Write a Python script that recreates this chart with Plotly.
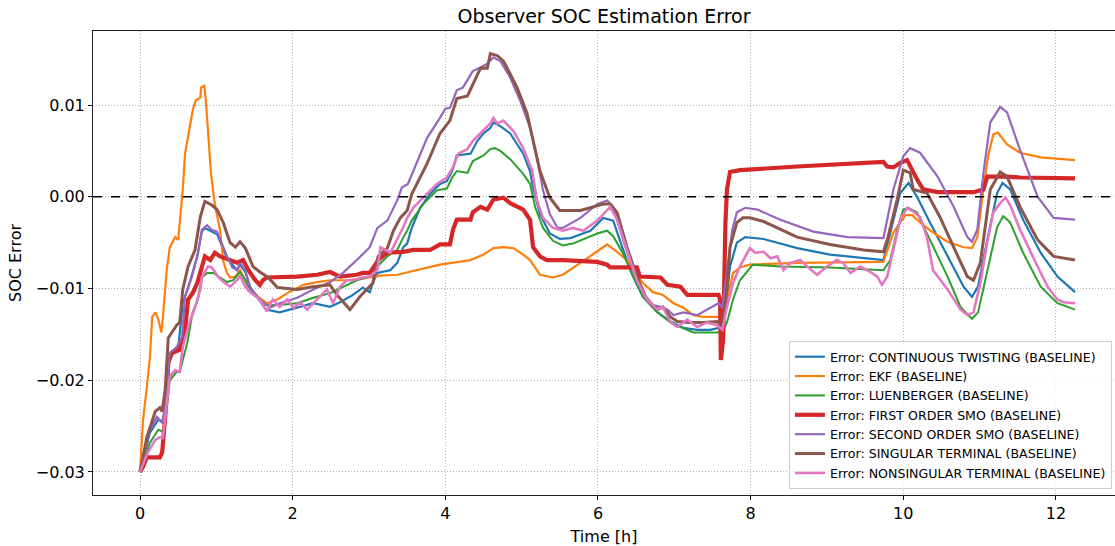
import plotly.graph_objects as go

# ---- data (time in hours, SOC error) ----
t_ct = [0, 0.13, 0.24, 0.29, 0.33, 0.39, 0.50, 0.56, 0.66, 0.75, 0.81, 0.85, 0.94, 1.01, 1.14, 1.27, 1.31, 1.38, 1.44, 1.65, 1.83, 2.06, 2.27, 2.49, 2.62, 2.79, 2.92, 3.01, 3.05, 3.11, 3.28, 3.37, 3.45, 3.50, 3.56, 3.67, 3.80, 3.93, 4.02, 4.09, 4.15, 4.33, 4.42, 4.50, 4.59, 4.63, 4.72, 4.85, 5.02, 5.11, 5.15, 5.24, 5.37, 5.50, 5.64, 5.90, 6.07, 6.20, 6.33, 6.46, 6.59, 6.78, 6.95, 7.12, 7.30, 7.47, 7.58, 7.63, 7.67, 7.73, 7.82, 7.93, 8.17, 8.61, 9.04, 9.48, 9.74, 9.83, 9.96, 10.07, 10.18, 10.35, 10.58, 10.79, 10.90, 10.98, 11.10, 11.23, 11.30, 11.40, 11.57, 11.80, 12.02, 12.25]
v_ct = [-0.0300, -0.0257, -0.0243, -0.0246, -0.0232, -0.0174, -0.0165, -0.0116, -0.0091, -0.0065, -0.0038, -0.0034, -0.0038, -0.0041, -0.0067, -0.0080, -0.0074, -0.0082, -0.0098, -0.0123, -0.0126, -0.0121, -0.0116, -0.0120, -0.0115, -0.0107, -0.0099, -0.0104, -0.0094, -0.0083, -0.0080, -0.0072, -0.0055, -0.0051, -0.0034, -0.0012, 0.0003, 0.0014, 0.0017, 0.0028, 0.0045, 0.0047, 0.0061, 0.0069, 0.0075, 0.0081, 0.0077, 0.0069, 0.0047, 0.0028, 0.0010, -0.0019, -0.0040, -0.0046, -0.0045, -0.0037, -0.0023, -0.0026, -0.0058, -0.0087, -0.0109, -0.0126, -0.0136, -0.0143, -0.0145, -0.0145, -0.0143, -0.0142, -0.0123, -0.0076, -0.0050, -0.0044, -0.0046, -0.0056, -0.0063, -0.0067, -0.0069, -0.0039, 0.0004, 0.0015, 0.0000, -0.0028, -0.0065, -0.0098, -0.0109, -0.0098, -0.0047, 0.0004, 0.0015, 0.0008, -0.0025, -0.0061, -0.0087, -0.0104]

t_ekf = [0, 0.04, 0.09, 0.13, 0.16, 0.20, 0.24, 0.28, 0.30, 0.35, 0.39, 0.46, 0.50, 0.52, 0.56, 0.59, 0.66, 0.69, 0.73, 0.79, 0.80, 0.84, 0.86, 0.89, 0.93, 0.98, 1.05, 1.09, 1.14, 1.18, 1.25, 1.31, 1.38, 1.44, 1.55, 1.66, 1.80, 1.93, 2.14, 2.32, 2.49, 2.71, 2.92, 3.15, 3.37, 3.58, 3.80, 3.93, 4.33, 4.50, 4.63, 4.76, 4.89, 5.02, 5.11, 5.18, 5.24, 5.41, 5.54, 5.77, 5.99, 6.12, 6.25, 6.38, 6.46, 6.59, 6.72, 6.85, 6.99, 7.12, 7.25, 7.38, 7.63, 7.69, 7.77, 7.86, 7.99, 8.61, 9.74, 9.87, 10.03, 10.12, 10.22, 10.39, 10.58, 10.79, 10.90, 10.97, 11.05, 11.11, 11.18, 11.24, 11.36, 11.53, 11.80, 12.25]
v_ekf = [-0.0300, -0.0243, -0.0207, -0.0174, -0.0131, -0.0126, -0.0134, -0.0148, -0.0131, -0.0080, -0.0055, -0.0044, -0.0047, -0.0028, 0.0008, 0.0047, 0.0080, 0.0094, 0.0105, 0.0108, 0.0119, 0.0121, 0.0108, 0.0072, 0.0025, -0.0008, -0.0037, -0.0070, -0.0083, -0.0088, -0.0087, -0.0080, -0.0091, -0.0101, -0.0109, -0.0116, -0.0112, -0.0105, -0.0096, -0.0093, -0.0091, -0.0091, -0.0089, -0.0086, -0.0085, -0.0081, -0.0077, -0.0074, -0.0069, -0.0063, -0.0056, -0.0055, -0.0056, -0.0063, -0.0069, -0.0077, -0.0085, -0.0088, -0.0085, -0.0072, -0.0060, -0.0052, -0.0060, -0.0069, -0.0080, -0.0094, -0.0104, -0.0107, -0.0116, -0.0121, -0.0129, -0.0131, -0.0131, -0.0112, -0.0083, -0.0077, -0.0074, -0.0072, -0.0071, -0.0039, -0.0020, -0.0020, -0.0028, -0.0039, -0.0049, -0.0055, -0.0056, -0.0044, 0.0008, 0.0044, 0.0068, 0.0070, 0.0057, 0.0048, 0.0043, 0.0040]

t_lu = [0, 0.13, 0.24, 0.30, 0.35, 0.39, 0.48, 0.52, 0.62, 0.69, 0.76, 0.81, 0.88, 0.96, 1.05, 1.14, 1.22, 1.31, 1.38, 1.44, 1.65, 1.83, 2.06, 2.27, 2.49, 2.66, 2.84, 3.01, 3.11, 3.24, 3.37, 3.45, 3.50, 3.56, 3.71, 3.89, 4.02, 4.09, 4.15, 4.29, 4.36, 4.50, 4.59, 4.65, 4.72, 4.85, 5.02, 5.11, 5.18, 5.28, 5.41, 5.54, 5.67, 5.99, 6.12, 6.20, 6.33, 6.46, 6.59, 6.78, 6.95, 7.08, 7.25, 7.56, 7.63, 7.69, 7.77, 7.86, 7.97, 8.03, 8.39, 9.04, 9.74, 9.83, 9.92, 10.00, 10.07, 10.18, 10.35, 10.58, 10.75, 10.90, 10.98, 11.10, 11.23, 11.31, 11.40, 11.57, 11.80, 12.02, 12.25]
v_lu = [-0.0300, -0.0268, -0.0254, -0.0256, -0.0232, -0.0200, -0.0191, -0.0191, -0.0159, -0.0126, -0.0112, -0.0088, -0.0083, -0.0083, -0.0088, -0.0093, -0.0091, -0.0082, -0.0091, -0.0101, -0.0118, -0.0118, -0.0116, -0.0110, -0.0105, -0.0098, -0.0091, -0.0087, -0.0076, -0.0065, -0.0058, -0.0044, -0.0037, -0.0026, -0.0008, 0.0007, 0.0009, 0.0021, 0.0028, 0.0026, 0.0039, 0.0045, 0.0052, 0.0053, 0.0050, 0.0041, 0.0025, 0.0014, -0.0012, -0.0034, -0.0048, -0.0053, -0.0051, -0.0040, -0.0037, -0.0043, -0.0062, -0.0087, -0.0109, -0.0126, -0.0137, -0.0142, -0.0148, -0.0148, -0.0147, -0.0137, -0.0112, -0.0091, -0.0080, -0.0074, -0.0076, -0.0077, -0.0080, -0.0069, -0.0036, -0.0014, -0.0012, -0.0017, -0.0047, -0.0087, -0.0120, -0.0133, -0.0126, -0.0083, -0.0033, -0.0021, -0.0028, -0.0061, -0.0098, -0.0116, -0.0123]

t_fo = [0, 0.04, 0.09, 0.26, 0.29, 0.33, 0.37, 0.42, 0.52, 0.59, 0.63, 0.69, 0.75, 0.81, 0.85, 0.92, 0.98, 1.05, 1.18, 1.27, 1.35, 1.42, 1.51, 1.57, 1.61, 1.66, 2.06, 2.32, 2.49, 2.62, 2.84, 2.92, 3.01, 3.12, 3.24, 3.45, 3.58, 3.80, 3.93, 4.06, 4.10, 4.15, 4.33, 4.36, 4.46, 4.55, 4.63, 4.76, 4.85, 4.94, 5.02, 5.11, 5.15, 5.24, 5.33, 5.54, 5.99, 6.12, 6.16, 6.51, 6.55, 6.82, 6.91, 7.08, 7.17, 7.58, 7.60, 7.61, 7.64, 7.67, 7.69, 7.73, 7.86, 8.61, 9.48, 9.74, 9.79, 9.87, 9.96, 10.05, 10.18, 10.26, 10.45, 10.92, 11.05, 11.10, 11.36, 11.53, 12.25]
v_fo = [-0.0300, -0.0294, -0.0284, -0.0284, -0.0279, -0.0240, -0.0181, -0.0170, -0.0167, -0.0145, -0.0112, -0.0105, -0.0094, -0.0076, -0.0065, -0.0069, -0.0061, -0.0065, -0.0069, -0.0072, -0.0069, -0.0080, -0.0091, -0.0096, -0.0091, -0.0088, -0.0087, -0.0085, -0.0082, -0.0087, -0.0085, -0.0083, -0.0083, -0.0069, -0.0061, -0.0060, -0.0058, -0.0058, -0.0052, -0.0052, -0.0036, -0.0025, -0.0025, -0.0017, -0.0011, -0.0014, -0.0003, -0.0001, -0.0007, -0.0011, -0.0014, -0.0025, -0.0055, -0.0065, -0.0069, -0.0069, -0.0071, -0.0074, -0.0077, -0.0077, -0.0087, -0.0088, -0.0096, -0.0098, -0.0107, -0.0107, -0.0112, -0.0178, -0.0156, -0.0028, 0.0008, 0.0027, 0.0029, 0.0033, 0.0037, 0.0038, 0.0033, 0.0032, 0.0037, 0.0040, 0.0019, 0.0008, 0.0005, 0.0005, 0.0008, 0.0022, 0.0022, 0.0021, 0.0020]

t_so = [0, 0.13, 0.22, 0.29, 0.33, 0.39, 0.48, 0.55, 0.59, 0.68, 0.76, 0.81, 0.88, 0.94, 1.01, 1.14, 1.21, 1.27, 1.31, 1.38, 1.44, 1.57, 1.70, 1.83, 2.06, 2.27, 2.49, 2.66, 2.84, 3.01, 3.11, 3.24, 3.37, 3.43, 3.51, 3.63, 3.76, 3.93, 4.00, 4.06, 4.15, 4.23, 4.36, 4.46, 4.55, 4.63, 4.72, 4.85, 4.98, 5.11, 5.20, 5.28, 5.37, 5.47, 5.54, 5.77, 5.99, 6.12, 6.20, 6.33, 6.46, 6.59, 6.72, 6.82, 6.91, 6.99, 7.12, 7.30, 7.47, 7.58, 7.63, 7.69, 7.76, 7.82, 7.93, 8.09, 8.39, 8.82, 9.27, 9.74, 9.87, 10.00, 10.09, 10.22, 10.45, 10.66, 10.84, 10.90, 10.97, 11.05, 11.14, 11.27, 11.36, 11.53, 11.76, 11.97, 12.25]
v_so = [-0.0300, -0.0254, -0.0240, -0.0246, -0.0229, -0.0170, -0.0164, -0.0153, -0.0109, -0.0087, -0.0061, -0.0036, -0.0031, -0.0036, -0.0038, -0.0065, -0.0077, -0.0080, -0.0072, -0.0080, -0.0099, -0.0112, -0.0121, -0.0116, -0.0110, -0.0101, -0.0093, -0.0083, -0.0069, -0.0055, -0.0034, -0.0026, -0.0004, 0.0010, 0.0014, 0.0039, 0.0064, 0.0086, 0.0096, 0.0097, 0.0116, 0.0119, 0.0137, 0.0141, 0.0145, 0.0152, 0.0148, 0.0130, 0.0105, 0.0075, 0.0043, 0.0007, -0.0019, -0.0034, -0.0034, -0.0023, -0.0008, -0.0004, -0.0011, -0.0047, -0.0080, -0.0105, -0.0118, -0.0120, -0.0123, -0.0129, -0.0126, -0.0129, -0.0121, -0.0116, -0.0121, -0.0083, -0.0036, -0.0017, -0.0012, -0.0014, -0.0025, -0.0038, -0.0044, -0.0045, 0.0008, 0.0044, 0.0053, 0.0048, 0.0022, -0.0011, -0.0044, -0.0049, -0.0036, 0.0026, 0.0081, 0.0098, 0.0092, 0.0051, 0.0000, -0.0023, -0.0025]

t_st = [0, 0.09, 0.20, 0.26, 0.29, 0.33, 0.37, 0.48, 0.52, 0.56, 0.63, 0.72, 0.79, 0.85, 0.94, 1.01, 1.09, 1.18, 1.25, 1.31, 1.38, 1.48, 1.57, 1.68, 1.80, 2.06, 2.27, 2.49, 2.58, 2.75, 2.88, 3.05, 3.12, 3.24, 3.32, 3.41, 3.50, 3.56, 3.76, 3.93, 4.06, 4.15, 4.29, 4.36, 4.46, 4.55, 4.59, 4.68, 4.76, 4.85, 4.94, 5.07, 5.15, 5.24, 5.37, 5.50, 5.77, 6.07, 6.16, 6.25, 6.38, 6.51, 6.64, 6.78, 6.85, 6.95, 7.04, 7.21, 7.38, 7.56, 7.63, 7.69, 7.73, 7.82, 7.90, 7.99, 8.17, 8.61, 9.04, 9.48, 9.74, 9.80, 9.92, 10.00, 10.09, 10.13, 10.31, 10.48, 10.66, 10.84, 10.92, 11.01, 11.14, 11.27, 11.36, 11.53, 11.76, 11.97, 12.25]
v_st = [-0.0300, -0.0262, -0.0234, -0.0230, -0.0234, -0.0210, -0.0154, -0.0140, -0.0137, -0.0101, -0.0076, -0.0058, -0.0022, -0.0005, -0.0009, -0.0014, -0.0028, -0.0050, -0.0055, -0.0049, -0.0056, -0.0076, -0.0082, -0.0088, -0.0099, -0.0101, -0.0098, -0.0096, -0.0107, -0.0123, -0.0109, -0.0094, -0.0065, -0.0056, -0.0037, -0.0023, -0.0015, 0.0003, 0.0036, 0.0069, 0.0083, 0.0107, 0.0110, 0.0123, 0.0140, 0.0140, 0.0156, 0.0154, 0.0148, 0.0134, 0.0119, 0.0091, 0.0061, 0.0028, -0.0001, -0.0015, -0.0015, -0.0008, -0.0008, -0.0017, -0.0055, -0.0087, -0.0112, -0.0123, -0.0120, -0.0131, -0.0136, -0.0137, -0.0137, -0.0136, -0.0142, -0.0101, -0.0055, -0.0028, -0.0023, -0.0023, -0.0027, -0.0044, -0.0052, -0.0058, -0.0060, -0.0044, -0.0003, 0.0029, 0.0026, 0.0008, 0.0004, -0.0022, -0.0055, -0.0087, -0.0091, -0.0072, 0.0008, 0.0027, 0.0022, -0.0011, -0.0047, -0.0065, -0.0069]

t_nt = [0, 0.10, 0.20, 0.26, 0.30, 0.35, 0.39, 0.46, 0.52, 0.56, 0.66, 0.72, 0.79, 0.81, 0.89, 0.94, 1.02, 1.11, 1.18, 1.27, 1.31, 1.38, 1.44, 1.57, 1.66, 1.74, 1.83, 1.93, 2.01, 2.10, 2.19, 2.27, 2.36, 2.45, 2.53, 2.62, 2.71, 2.79, 2.92, 3.01, 3.11, 3.15, 3.28, 3.37, 3.45, 3.50, 3.58, 3.71, 3.89, 4.02, 4.10, 4.17, 4.29, 4.36, 4.50, 4.59, 4.63, 4.68, 4.76, 4.89, 5.02, 5.14, 5.20, 5.28, 5.41, 5.54, 5.67, 5.81, 5.99, 6.16, 6.25, 6.38, 6.51, 6.64, 6.78, 6.85, 6.95, 7.04, 7.17, 7.30, 7.43, 7.56, 7.63, 7.69, 7.77, 7.86, 7.93, 7.99, 8.06, 8.17, 8.26, 8.35, 8.43, 8.52, 8.65, 8.74, 8.87, 9.00, 9.13, 9.21, 9.31, 9.44, 9.57, 9.66, 9.72, 9.79, 9.87, 9.96, 10.05, 10.13, 10.22, 10.31, 10.39, 10.58, 10.75, 10.84, 10.92, 11.01, 11.10, 11.18, 11.27, 11.34, 11.40, 11.53, 11.76, 11.89, 12.02, 12.10, 12.25]
v_nt = [-0.0300, -0.0279, -0.0265, -0.0262, -0.0263, -0.0229, -0.0196, -0.0189, -0.0191, -0.0164, -0.0134, -0.0121, -0.0101, -0.0088, -0.0076, -0.0077, -0.0087, -0.0094, -0.0098, -0.0091, -0.0086, -0.0098, -0.0104, -0.0112, -0.0125, -0.0112, -0.0120, -0.0112, -0.0121, -0.0115, -0.0123, -0.0116, -0.0109, -0.0101, -0.0116, -0.0098, -0.0091, -0.0091, -0.0088, -0.0087, -0.0080, -0.0055, -0.0061, -0.0047, -0.0033, -0.0023, -0.0012, -0.0001, 0.0014, 0.0021, 0.0032, 0.0047, 0.0052, 0.0061, 0.0072, 0.0080, 0.0086, 0.0080, 0.0083, 0.0072, 0.0053, 0.0028, -0.0004, -0.0023, -0.0034, -0.0037, -0.0034, -0.0037, -0.0026, -0.0011, -0.0025, -0.0058, -0.0091, -0.0112, -0.0123, -0.0120, -0.0137, -0.0142, -0.0134, -0.0142, -0.0137, -0.0140, -0.0145, -0.0120, -0.0094, -0.0076, -0.0065, -0.0056, -0.0061, -0.0060, -0.0067, -0.0065, -0.0080, -0.0072, -0.0069, -0.0076, -0.0085, -0.0076, -0.0069, -0.0072, -0.0083, -0.0076, -0.0082, -0.0087, -0.0096, -0.0087, -0.0058, -0.0025, -0.0012, -0.0016, -0.0022, -0.0044, -0.0080, -0.0101, -0.0123, -0.0129, -0.0126, -0.0094, -0.0050, -0.0017, -0.0007, -0.0001, -0.0009, -0.0036, -0.0076, -0.0098, -0.0112, -0.0115, -0.0116]

series = [
    ("Error: CONTINUOUS TWISTING (BASELINE)", t_ct, v_ct, "#1f77b4", 2.2),
    ("Error: EKF (BASELINE)", t_ekf, v_ekf, "#ff7f0e", 2.2),
    ("Error: LUENBERGER (BASELINE)", t_lu, v_lu, "#2ca02c", 2.0),
    ("Error: FIRST ORDER SMO (BASELINE)", t_fo, v_fo, "#d62728", 4.2),
    ("Error: SECOND ORDER SMO (BASELINE)", t_so, v_so, "#9467bd", 2.2),
    ("Error: SINGULAR TERMINAL (BASELINE)", t_st, v_st, "#8c564b", 3.0),
    ("Error: NONSINGULAR TERMINAL (BASELINE)", t_nt, v_nt, "#e377c2", 2.6),
]

y_ticks = [-0.03, -0.02, -0.01, 0.0, 0.01]
y_tick_text = ["\u22120.03", "\u22120.02", "\u22120.01", "0.00", "0.01"]
x_ticks = [0, 2, 4, 6, 8, 10, 12]

fig = go.Figure()
for name, t, v, color, w in series:
    fig.add_trace(go.Scatter(x=t, y=v, mode="lines", name=name,
                             line=dict(color=color, width=w)))

fig.add_shape(type="line", xref="paper", x0=0, x1=1, yref="y", y0=0, y1=0,
              line=dict(color="black", width=1.4, dash="dash"), layer="above")

font = "DejaVu Sans, Arial, sans-serif"
fig.update_layout(
    width=1115, height=546,
    margin=dict(l=93, r=0, t=31, b=51),
    paper_bgcolor="white", plot_bgcolor="white",
    font=dict(family=font, size=16, color="black"),
    title=dict(text="Observer SOC Estimation Error", x=(93 + 1115) / 2 / 1115, xanchor="center",
               y=1 - 16 / 546, yanchor="middle", font=dict(size=19, family=font)),
    showlegend=True,
    legend=dict(x=0.997, y=0.013, xanchor="right", yanchor="bottom",
                bgcolor="rgba(255,255,255,0.8)", bordercolor="#cccccc", borderwidth=1,
                font=dict(size=12.6, family=font), itemwidth=30, tracegroupgap=0),
)
fig.update_xaxes(range=[-0.616, 12.774], tickvals=x_ticks, ticks="outside", ticklen=4,
                 tickcolor="black", showline=True, linecolor="#222", linewidth=1, mirror=True,
                 showgrid=True, gridcolor="#b0b0b0", griddash="1px,2px", gridwidth=1, zeroline=False,
                 title=dict(text="Time [h]", font=dict(size=16), standoff=8),
                 tickfont=dict(size=16))
fig.update_yaxes(range=[-0.03251, 0.01807], tickvals=y_ticks, ticktext=y_tick_text,
                 ticks="outside", ticklen=4, tickcolor="black", showline=True, linecolor="#222",
                 linewidth=1, mirror=True, showgrid=True, gridcolor="#b0b0b0", griddash="1px,2px",
                 gridwidth=1, zeroline=False,
                 title=dict(text="SOC Error", font=dict(size=16), standoff=10),
                 tickfont=dict(size=16))

fig.write_html("out.html")
